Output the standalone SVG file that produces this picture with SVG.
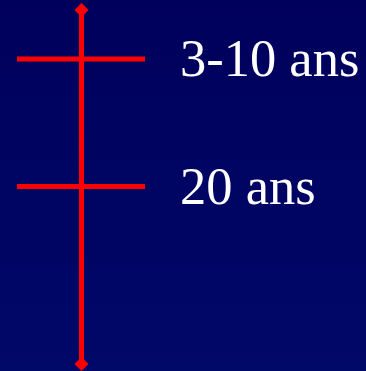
<svg xmlns="http://www.w3.org/2000/svg" width="366" height="371" viewBox="0 0 366 371">
<defs>
<linearGradient id="bg" x1="0" y1="0" x2="0" y2="1">
<stop offset="0" stop-color="#00005c"/>
<stop offset="1" stop-color="#000868"/>
</linearGradient>
<style>
.ln{stroke:#ff0000;stroke-width:5;fill:none}
.dm{fill:#ff0000}
.lb{fill:#ffffff;font-family:"Liberation Serif","Times New Roman",serif;font-size:52.5px}
</style>
</defs>
<rect width="366" height="371" fill="url(#bg)"/>
<g id="connectors">
<line class="ln" x1="81.5" y1="10" x2="81.5" y2="364"/>
<line class="ln" x1="17" y1="59" x2="145" y2="59"/>
<line class="ln" x1="17" y1="186.5" x2="145" y2="186.5"/>
<polygon class="dm" points="81.5,3 88.5,10 81.5,17 74.5,10"/>
<polygon class="dm" points="81.5,357 88.5,364 81.5,371 74.5,364"/>
</g>
<g id="label1"><text class="lb" x="180" y="76">3-10 ans</text></g>
<g id="label2"><text class="lb" x="180" y="204">20 ans</text></g>
</svg>
